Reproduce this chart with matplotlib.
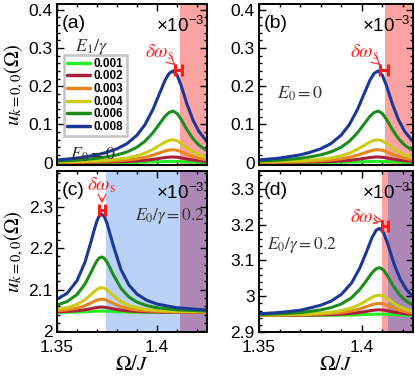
import numpy as np
import matplotlib
matplotlib.use("Agg")
import matplotlib.pyplot as plt
from matplotlib.ticker import MultipleLocator

plt.rcParams['font.family'] = ['Liberation Sans', 'DejaVu Sans']
plt.rcParams['mathtext.fontset'] = 'stix'

# --- data ---
E1_labels = ['0.001', '0.002', '0.003', '0.004', '0.006', '0.008']
colors = ['#22f022', '#a8203c', '#e8861c', '#cccc14', '#1c8c1c', '#1c3896']

# normalised resonance shape (blue curve / its peak) sampled along Omega/J
x_ab = [1.35, 1.36, 1.37, 1.375, 1.38, 1.385, 1.39, 1.394, 1.398, 1.401, 1.404,
        1.406, 1.408, 1.410, 1.412, 1.415, 1.418, 1.421, 1.425]
shape_ab = [0.03, 0.05, 0.085, 0.114, 0.151, 0.208, 0.30, 0.415, 0.582, 0.74, 0.897,
            0.972, 1.0, 0.956, 0.844, 0.638, 0.464, 0.339, 0.230]

x_c = [1.35, 1.355, 1.36, 1.364, 1.367, 1.3685, 1.370, 1.371, 1.3723, 1.3737, 1.375,
       1.3765, 1.378, 1.382, 1.386, 1.39, 1.395, 1.40, 1.41, 1.425]
shape_c = [0.135, 0.195, 0.323, 0.512, 0.72, 0.833, 0.932, 0.977, 1.0, 0.974, 0.908,
           0.80, 0.69, 0.435, 0.278, 0.187, 0.123, 0.086, 0.048, 0.025]

x_d = [1.35, 1.36, 1.37, 1.375, 1.38, 1.385, 1.39, 1.395, 1.399, 1.402, 1.405,
       1.407, 1.4087, 1.4107, 1.4127, 1.4157, 1.4187, 1.4217, 1.425]
shape_d = [0.02, 0.035, 0.06, 0.088, 0.118, 0.164, 0.24, 0.37, 0.54, 0.71, 0.89,
           0.975, 1.0, 0.948, 0.82, 0.596, 0.42, 0.30, 0.214]

# peak heights above baseline (units of 1e-3) for each E1
peaks_a = [0.0035, 0.015, 0.034, 0.060, 0.135, 0.240]
peaks_c = [0.0035, 0.013, 0.032, 0.060, 0.134, 0.237]
peaks_d = [0.004, 0.016, 0.034, 0.057, 0.134, 0.244]
base_a, base_c, base_d = 0.0, 2.045, 2.946

# delta omega_s marker (center, half width, height)
dws_a = (1.4108, 0.0018, 0.243)
dws_c = (1.3725, 0.0015, 2.293)
dws_d = (1.4112, 0.0015, 3.195)

# shaded regions (start, end, color)
shade_a = [(1.4115, 1.425, '#fba2a2')]
shade_c = [(1.3743, 1.4115, '#b9d2f6'), (1.4115, 1.425, '#ad88b6')]
shade_d = [(1.4098, 1.4126, '#fba2a2'), (1.4126, 1.425, '#ad88b6')]

W, H = 415, 377
fig = plt.figure(figsize=(W / 100, H / 100), dpi=100)


def make_ax(l, t, r, b):
    return fig.add_axes([l / W, 1 - b / H, (r - l) / W, (b - t) / H])


ax_a = make_ax(57, 4, 207, 165)
ax_b = make_ax(259, 4, 413, 165)
ax_c = make_ax(57, 171, 207, 332)
ax_d = make_ax(259, 171, 413, 332)


def draw(ax, xs, shape, peaks, base, shades, dws, ylim, ymaj, ymin_, letter):
    for x0, x1, c in shades:
        ax.axvspan(x0, x1, color=c, lw=0, zorder=0)
    shape = np.array(shape)
    for p, c, lab in zip(peaks, colors, E1_labels):
        ax.plot(xs, base + p * shape, color=c, lw=2.2, label=lab,
                solid_capstyle='round', solid_joinstyle='round')
    xc, hw, yv = dws
    ax.errorbar([xc], [yv], xerr=[hw], fmt='none', ecolor='#ff1a1a',
                elinewidth=2.2, capsize=4, capthick=2.2, zorder=5)
    ax.set_xlim(1.35, 1.425)
    ax.set_ylim(*ylim)
    ax.xaxis.set_major_locator(MultipleLocator(0.05))
    ax.xaxis.set_minor_locator(MultipleLocator(0.01))
    ax.yaxis.set_major_locator(MultipleLocator(ymaj))
    ax.yaxis.set_minor_locator(MultipleLocator(ymin_))
    ax.tick_params(which='both', direction='in', top=True, right=True,
                   labelsize=12.5, width=1)
    ax.tick_params(axis='y', pad=3)
    ax.tick_params(axis='x', pad=6)
    ax.tick_params(which='major', length=5)
    ax.tick_params(which='minor', length=2.5)
    for s in ax.spines.values():
        s.set_linewidth(1.4)
    ax.text(0.03, 0.93, letter, transform=ax.transAxes, ha='left', va='top',
            fontsize=14)
    ax.text(0.985, 0.93, '×10$^{\\mathregular{-3}}$', transform=ax.transAxes,
            ha='right', va='top', fontsize=13.5)


def yfmt(v, pos):
    return ('%g' % round(v, 3))


draw(ax_a, x_ab, shape_ab, peaks_a, base_a, shade_a, dws_a,
     (-0.006, 0.415), 0.1, 0.02, '(a)')
draw(ax_b, x_ab, shape_ab, peaks_a, base_a, shade_a, dws_a,
     (-0.006, 0.415), 0.1, 0.02, '(b)')
draw(ax_c, x_c, shape_c, peaks_c, base_c, shade_c, dws_c,
     (1.998, 2.386), 0.1, 0.02, '(c)')
draw(ax_d, x_d, shape_d, peaks_d, base_d, shade_d, dws_d,
     (2.9, 3.35), 0.1, 0.02, '(d)')

for ax in (ax_a, ax_b, ax_c, ax_d):
    ax.yaxis.set_major_formatter(plt.FuncFormatter(yfmt))
    ax.xaxis.set_major_formatter(plt.FuncFormatter(yfmt))
for ax in (ax_a, ax_b):
    ax.tick_params(labelbottom=False)

ylab = '$u_{k=0,0}(\\Omega)$'
ax_a.set_ylabel(ylab, fontsize=15, labelpad=2)
ax_c.set_ylabel(ylab, fontsize=15, labelpad=2)
ax_c.set_xlabel('$\\Omega/J$', fontsize=15, labelpad=0)
ax_d.set_xlabel('$\\Omega/J$', fontsize=15, labelpad=0)

# legend in (a)
leg = ax_a.legend(loc='upper left', bbox_to_anchor=(0.045, 0.685), frameon=True,
                  fancybox=False, handlelength=2.0, handletextpad=0.3,
                  labelspacing=0.06, borderpad=0.25, borderaxespad=0,
                  prop={'weight': 'bold', 'size': 8.5})
leg.get_frame().set_edgecolor('#b4b4b4')
leg.get_frame().set_linewidth(1.8)
for ln in leg.get_lines():
    ln.set_linewidth(2.5)
ax_a.text(0.12, 0.73, '$E_1/\\gamma$', transform=ax_a.transAxes, fontsize=13,
          color='#333333', ha='left', va='center')
ax_a.text(0.085, 0.065, '$E_0=0$', transform=ax_a.transAxes, fontsize=13,
          color='#333333', ha='left', va='center')
ax_b.text(0.12, 0.44, '$E_0=0$', transform=ax_b.transAxes, fontsize=13,
          color='#333333', ha='left', va='center')
ax_c.text(0.985, 0.72, '$E_0/\\gamma=0.2$', transform=ax_c.transAxes, fontsize=12.5,
          color='#333333', ha='right', va='center')
ax_d.text(0.05, 0.54, '$E_0/\\gamma=0.2$', transform=ax_d.transAxes, fontsize=12.5,
          color='#333333', ha='left', va='center')

# delta omega_s labels with arrows
red = '#ff2020'
arr = dict(arrowstyle='->', color=red, lw=0.8, shrinkA=0, shrinkB=1)
ax_a.annotate('$\\delta\\omega_{\\rm s}$', xy=(1.4092, 0.255), xytext=(1.4015, 0.29),
              color=red, fontsize=14, ha='center', va='center', arrowprops=arr)
ax_b.annotate('$\\delta\\omega_{\\rm s}$', xy=(1.4092, 0.255), xytext=(1.4015, 0.29),
              color=red, fontsize=14, ha='center', va='center', arrowprops=arr)
ax_c.annotate('$\\delta\\omega_{\\rm s}$', xy=(1.3725, 2.305), xytext=(1.3725, 2.352),
              color=red, fontsize=14, ha='center', va='center', arrowprops=arr)
ax_d.annotate('$\\delta\\omega_{\\rm s}$', xy=(1.4102, 3.21), xytext=(1.4015, 3.22),
              color=red, fontsize=14, ha='center', va='center', arrowprops=arr)

fig.savefig('out.png', dpi=100)
